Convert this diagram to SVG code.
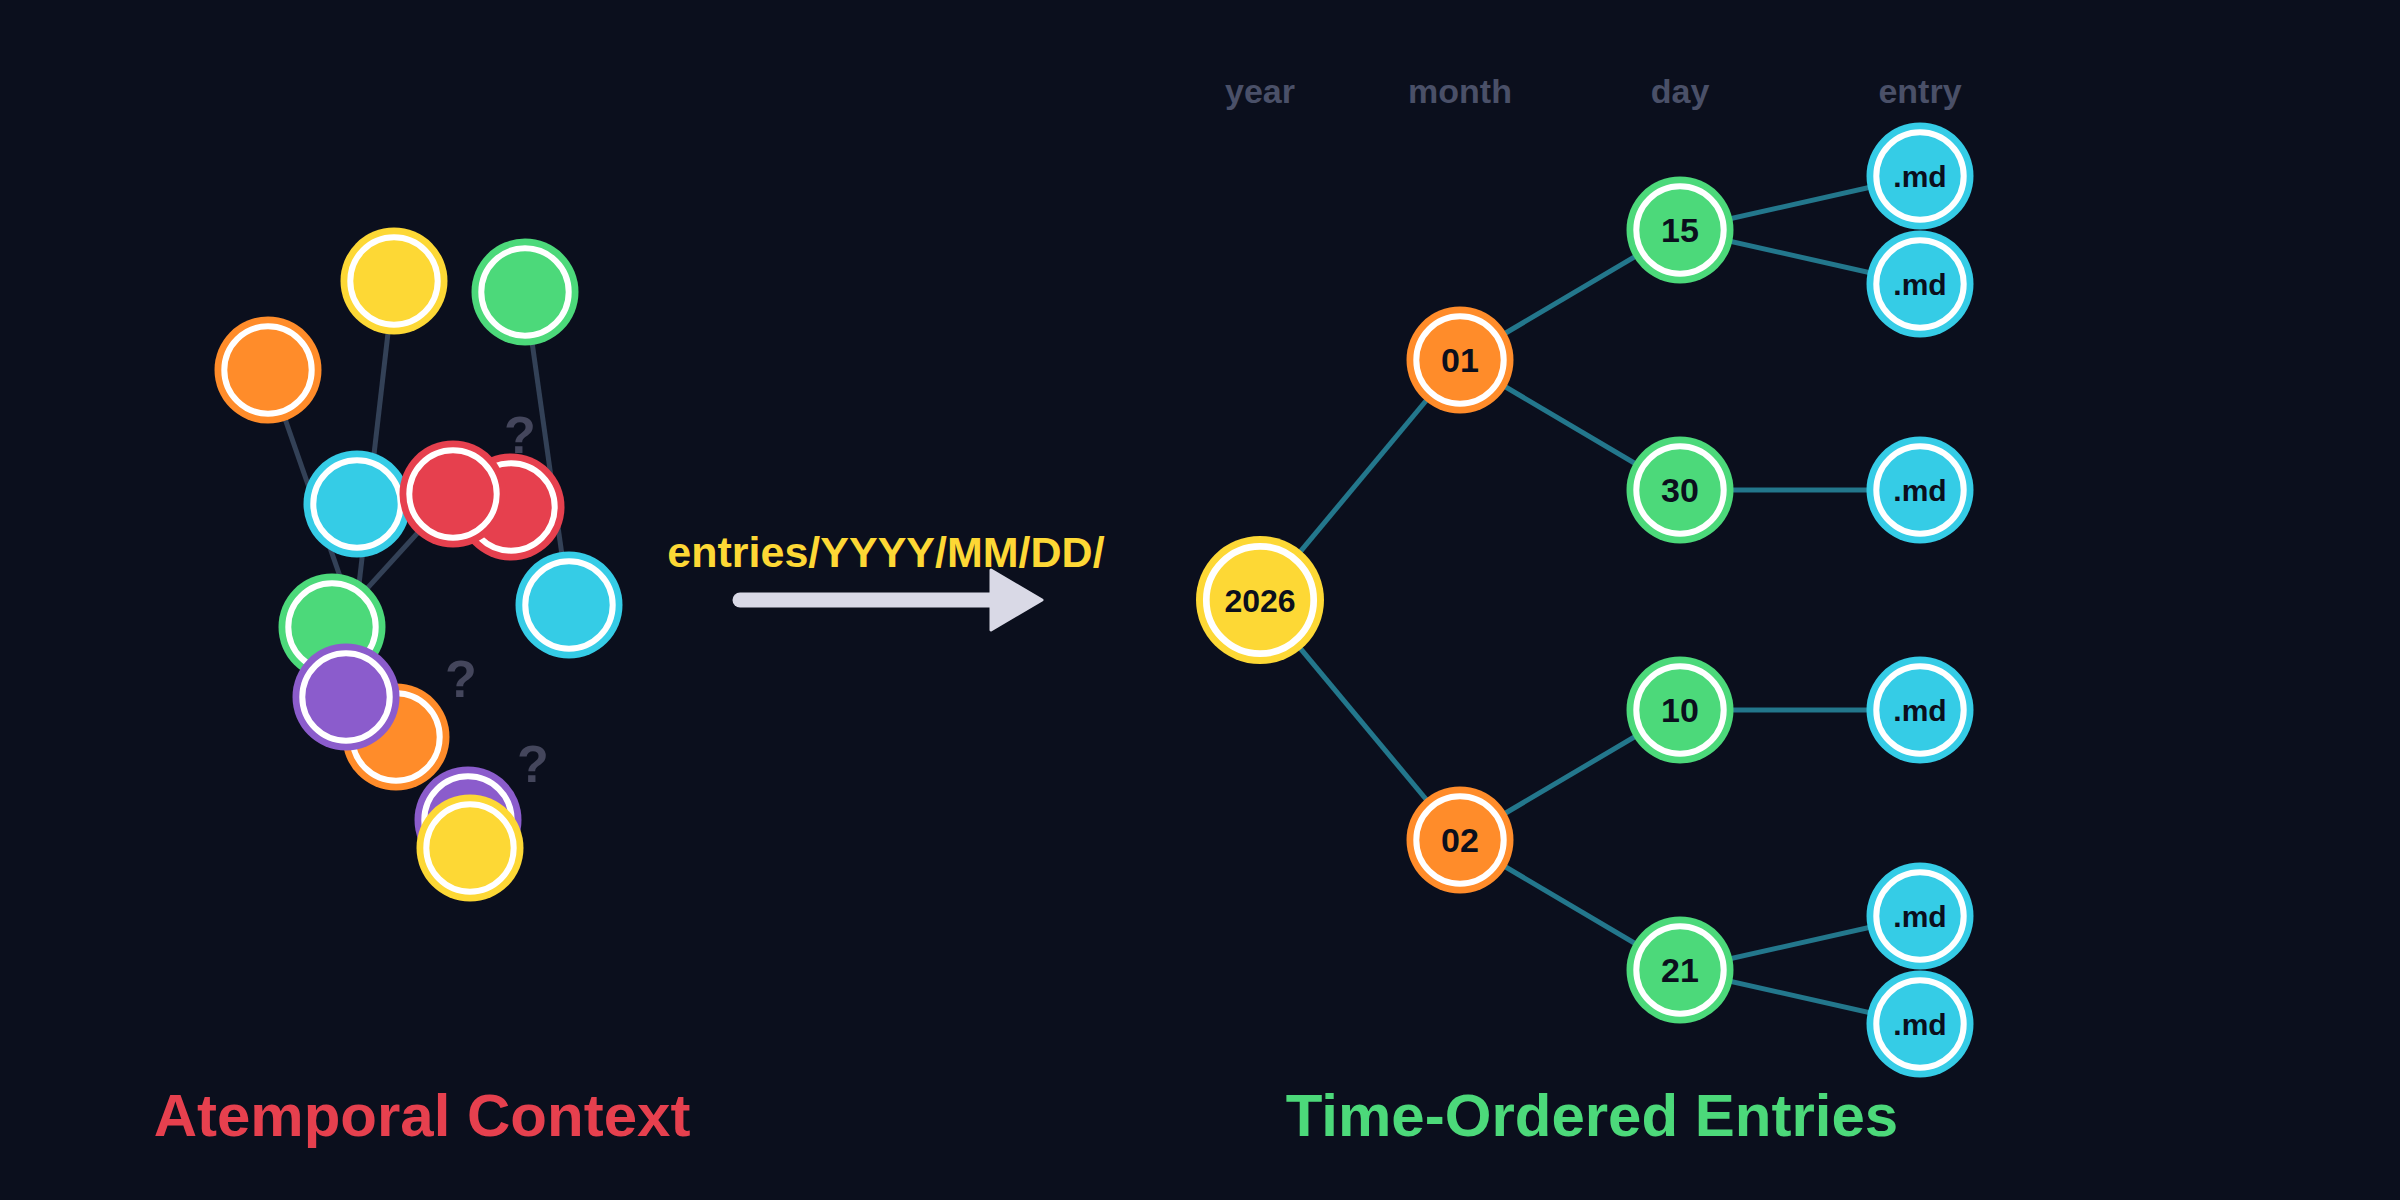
<svg xmlns="http://www.w3.org/2000/svg" width="2400" height="1200" viewBox="0 0 2400 1200">
<style>
.bg{fill:#0b0f1d}
.ring{stroke:#ffffff;stroke-width:6}
.ring2{stroke:#ffffff;stroke-width:6.7}
.y{fill:#fdd835}
.o{fill:#ff8c2a}
.g{fill:#4cd97a}
.c{fill:#35cce6}
.r{fill:#e6404e}
.p{fill:#8b5ccc}
.lk{stroke:#334157;stroke-width:5;fill:none}
.tl{stroke:#23778c;stroke-width:5;fill:none}
.nt{font-family:"Liberation Sans",Arial,sans-serif;font-weight:bold;fill:#0b0f1d;text-anchor:middle}
.hd{font-family:"Liberation Sans",Arial,sans-serif;font-weight:bold;font-size:34px;fill:#4a5068;text-anchor:middle}
.q{font-family:"Liberation Sans",Arial,sans-serif;font-weight:bold;font-size:52px;fill:#44465c;text-anchor:middle}
.title{font-family:"Liberation Sans",Arial,sans-serif;font-weight:bold;font-size:60px;text-anchor:middle}
</style>
<rect class="bg" x="0" y="0" width="2400" height="1200"/>

<!-- left cluster connectors -->
<g id="left-links">
<line class="lk" x1="268" y1="370" x2="396" y2="737"/>
<line class="lk" x1="394" y1="281" x2="346" y2="697"/>
<line class="lk" x1="453" y1="494" x2="332" y2="627"/>
<line class="lk" x1="525" y1="292" x2="569" y2="605"/>
</g>

<text class="q" x="520" y="453">?</text>

<g id="l-orange1"><circle class="o" cx="268" cy="370" r="53.5"/><circle class="o ring" cx="268" cy="370" r="43.7"/></g>
<g id="l-yellow1"><circle class="y" cx="394" cy="281" r="53.5"/><circle class="y ring" cx="394" cy="281" r="43.7"/></g>
<g id="l-green1"><circle class="g" cx="525" cy="292" r="53.5"/><circle class="g ring" cx="525" cy="292" r="43.7"/></g>
<g id="l-cyan1"><circle class="c" cx="357" cy="504" r="53.5"/><circle class="c ring" cx="357" cy="504" r="43.7"/></g>
<g id="l-red2"><circle class="r" cx="511" cy="507" r="53.5"/><circle class="r ring" cx="511" cy="507" r="43.7"/></g>
<g id="l-red1"><circle class="r" cx="453" cy="494" r="53.5"/><circle class="r ring" cx="453" cy="494" r="43.7"/></g>
<g id="l-cyan2"><circle class="c" cx="569" cy="605" r="53.5"/><circle class="c ring" cx="569" cy="605" r="43.7"/></g>
<g id="l-green2"><circle class="g" cx="332" cy="627" r="53.5"/><circle class="g ring" cx="332" cy="627" r="43.7"/></g>
<g id="l-orange2"><circle class="o" cx="396" cy="737" r="53.5"/><circle class="o ring" cx="396" cy="737" r="43.7"/></g>
<g id="l-purple1"><circle class="p" cx="346" cy="697" r="53.5"/><circle class="p ring" cx="346" cy="697" r="43.7"/></g>
<g id="l-purple2"><circle class="p" cx="468" cy="820" r="53.5"/><circle class="p ring" cx="468" cy="820" r="43.7"/></g>
<g id="l-yellow2"><circle class="y" cx="470" cy="848" r="53.5"/><circle class="y ring" cx="470" cy="848" r="43.7"/></g>

<text class="q" x="461" y="697">?</text>
<text class="q" x="533" y="782">?</text>

<!-- transformation arrow -->
<g id="arrow">
<text x="886" y="567" font-family="'Liberation Sans',Arial,sans-serif" font-weight="bold" font-size="43" fill="#fdd835" text-anchor="middle">entries/YYYY/MM/DD/</text>
<line x1="740" y1="600" x2="995" y2="600" stroke="#d9d9e6" stroke-width="15" stroke-linecap="round"/>
<polygon points="991,570 1042,600 991,630" fill="#d9d9e6" stroke="#d9d9e6" stroke-width="3" stroke-linejoin="round"/>
</g>

<!-- headers -->
<g id="headers">
<text class="hd" x="1260" y="103">year</text>
<text class="hd" x="1460" y="103">month</text>
<text class="hd" x="1680" y="103">day</text>
<text class="hd" x="1920" y="103">entry</text>
</g>

<!-- tree connectors -->
<g id="tree-links">
<line class="tl" x1="1260" y1="600" x2="1460" y2="360"/>
<line class="tl" x1="1260" y1="600" x2="1460" y2="840"/>
<line class="tl" x1="1460" y1="360" x2="1680" y2="230"/>
<line class="tl" x1="1460" y1="360" x2="1680" y2="490"/>
<line class="tl" x1="1460" y1="840" x2="1680" y2="710"/>
<line class="tl" x1="1460" y1="840" x2="1680" y2="970"/>
<line class="tl" x1="1680" y1="230" x2="1920" y2="176"/>
<line class="tl" x1="1680" y1="230" x2="1920" y2="284"/>
<line class="tl" x1="1680" y1="490" x2="1920" y2="490"/>
<line class="tl" x1="1680" y1="710" x2="1920" y2="710"/>
<line class="tl" x1="1680" y1="970" x2="1920" y2="916"/>
<line class="tl" x1="1680" y1="970" x2="1920" y2="1024"/>
</g>

<!-- tree nodes -->
<g id="n-2026"><circle class="y" cx="1260" cy="600" r="64"/><circle class="y ring2" cx="1260" cy="600" r="53.7"/><text class="nt" x="1260" y="611.5" font-size="32">2026</text></g>
<g id="n-01"><circle class="o" cx="1460" cy="360" r="53.5"/><circle class="o ring" cx="1460" cy="360" r="43.7"/><text class="nt" x="1460" y="372" font-size="34">01</text></g>
<g id="n-02"><circle class="o" cx="1460" cy="840" r="53.5"/><circle class="o ring" cx="1460" cy="840" r="43.7"/><text class="nt" x="1460" y="852" font-size="34">02</text></g>
<g id="n-15"><circle class="g" cx="1680" cy="230" r="53.5"/><circle class="g ring" cx="1680" cy="230" r="43.7"/><text class="nt" x="1680" y="242" font-size="34">15</text></g>
<g id="n-30"><circle class="g" cx="1680" cy="490" r="53.5"/><circle class="g ring" cx="1680" cy="490" r="43.7"/><text class="nt" x="1680" y="502" font-size="34">30</text></g>
<g id="n-10"><circle class="g" cx="1680" cy="710" r="53.5"/><circle class="g ring" cx="1680" cy="710" r="43.7"/><text class="nt" x="1680" y="722" font-size="34">10</text></g>
<g id="n-21"><circle class="g" cx="1680" cy="970" r="53.5"/><circle class="g ring" cx="1680" cy="970" r="43.7"/><text class="nt" x="1680" y="982" font-size="34">21</text></g>
<g id="n-md1"><circle class="c" cx="1920" cy="176" r="53.5"/><circle class="c ring" cx="1920" cy="176" r="43.7"/><text class="nt" x="1920" y="187" font-size="30">.md</text></g>
<g id="n-md2"><circle class="c" cx="1920" cy="284" r="53.5"/><circle class="c ring" cx="1920" cy="284" r="43.7"/><text class="nt" x="1920" y="295" font-size="30">.md</text></g>
<g id="n-md3"><circle class="c" cx="1920" cy="490" r="53.5"/><circle class="c ring" cx="1920" cy="490" r="43.7"/><text class="nt" x="1920" y="501" font-size="30">.md</text></g>
<g id="n-md4"><circle class="c" cx="1920" cy="710" r="53.5"/><circle class="c ring" cx="1920" cy="710" r="43.7"/><text class="nt" x="1920" y="721" font-size="30">.md</text></g>
<g id="n-md5"><circle class="c" cx="1920" cy="916" r="53.5"/><circle class="c ring" cx="1920" cy="916" r="43.7"/><text class="nt" x="1920" y="927" font-size="30">.md</text></g>
<g id="n-md6"><circle class="c" cx="1920" cy="1024" r="53.5"/><circle class="c ring" cx="1920" cy="1024" r="43.7"/><text class="nt" x="1920" y="1035" font-size="30">.md</text></g>

<!-- titles -->
<text class="title" x="422" y="1136" fill="#e6404e">Atemporal Context</text>
<text class="title" x="1592" y="1136" fill="#4cd97a">Time-Ordered Entries</text>
</svg>
